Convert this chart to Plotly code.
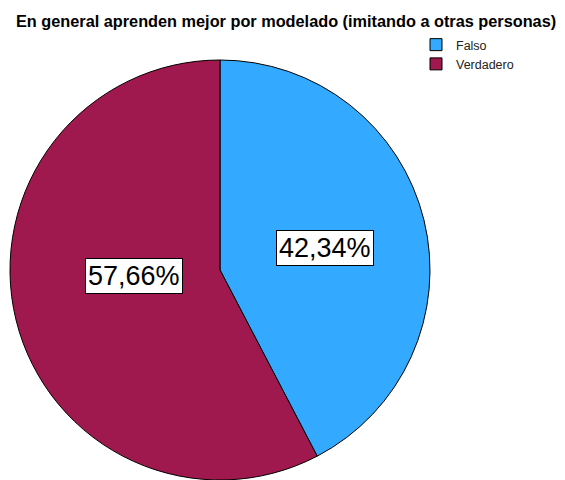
import plotly.graph_objects as go

# Response categories and their shares (%)
categories = ["Falso", "Verdadero"]
shares = [42.34, 57.66]
colors = ["#33AAFF", "#A0194E"]
title_text = "En general aprenden mejor por modelado (imitando a otras personas)"

W, H = 565, 480
FONT = "Liberation Sans, Arial, sans-serif"

# Pie placement in pixels -> paper domain
cx, cy, r = 220, 270, 210
domain_x = [(cx - r) / W, (cx + r) / W]
domain_y = [1 - (cy + r) / H, 1 - (cy - r) / H]

fig = go.Figure(
    go.Pie(
        labels=categories,
        values=shares,
        sort=False,
        direction="clockwise",
        rotation=0,
        marker=dict(colors=colors, line=dict(color="black", width=1)),
        textinfo="none",
        hoverinfo="label+percent",
        domain=dict(x=domain_x, y=domain_y),
    )
)

# Boxed percentage labels inside each slice
label_px = [(325, 248), (134, 276)]
for (px, py), v in zip(label_px, shares):
    fig.add_annotation(
        x=px / W, y=1 - py / H, xref="paper", yref="paper",
        text=f"{v:.2f}%".replace(".", ","),
        showarrow=False,
        font=dict(family=FONT, size=27, color="black"),
        bgcolor="white", bordercolor="black", borderwidth=1, borderpad=2,
        xanchor="center", yanchor="middle",
    )

fig.update_layout(
    width=W, height=H,
    margin=dict(l=0, r=0, t=0, b=0),
    paper_bgcolor="white", plot_bgcolor="white",
    title=dict(
        text=f"<b>{title_text}</b>",
        x=16 / W, xanchor="left", xref="container",
        y=1 - 21 / H, yanchor="middle", yref="container",
        font=dict(family=FONT, size=16.3, color="black"),
    ),
    legend=dict(
        x=416 / W, y=1 - 30 / H, xanchor="left", yanchor="top",
        font=dict(family=FONT, size=12.5, color="#222222"),
        bgcolor="rgba(0,0,0,0)", borderwidth=0,
        itemwidth=30, tracegroupgap=0,
    ),
    showlegend=True,
)

fig.write_html("out.html")
